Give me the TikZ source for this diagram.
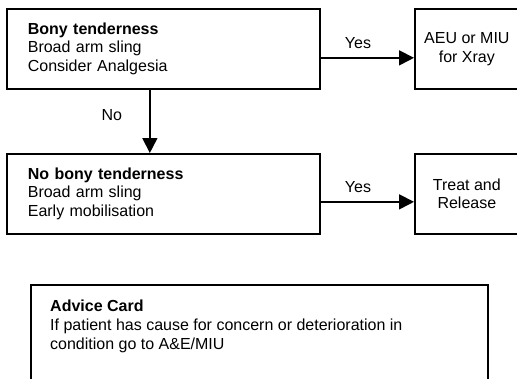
\documentclass[tikz,border=0pt]{standalone}
\usepackage{fontspec}
\setmainfont{Liberation Sans}
\usetikzlibrary{arrows.meta}
\begin{document}
\begin{tikzpicture}[x=1bp,y=-1bp,
  every node/.style={font=\fontsize{16bp}{18.8bp}\selectfont},
  box/.style={draw, line width=1.7bp, inner sep=0pt},
  stepbox/.style={box, align=left, text width=271bp, inner xsep=21bp,
    minimum height=80bp},
  outcome/.style={box, align=center, minimum width=104bp, minimum height=80bp},
  flow/.style={line width=1.7bp, -{Triangle[length=15bp,width=15bp]}},
  lbl/.style={inner sep=0pt}
]
  \useasboundingbox (0,0) rectangle (517,378);
  \fill[white] (0,0) rectangle (517,378);
  \clip (0,0) rectangle (517,378);

  % assessment steps
  \node[stepbox, anchor=north west] (bony) at (6,8)
    {\textbf{Bony tenderness}\\Broad arm sling\\Consider Analgesia};
  \node[stepbox, anchor=north west] (nobony) at (6,153)
    {\textbf{No bony tenderness}\\Broad arm sling\\Early mobilisation};

  % outcomes
  \node[outcome, anchor=north west] (xray) at (414,8) {AEU or MIU\\for Xray};
  \node[outcome, anchor=north west] (release) at (414,153) {Treat and\\Release};

  % connectors
  \draw[flow] ([yshift=-9bp]bony.east) -- ([yshift=-9bp]xray.west)
    node[lbl, pos=0.4, anchor=base, yshift=9bp] (yes1) {Yes};
  \draw[flow] ([yshift=-8bp]nobony.east) -- ([yshift=-8bp]release.west)
    node[lbl, pos=0.4, anchor=base, yshift=9bp] (yes2) {Yes};
  \draw[flow] ([xshift=-13.5bp]bony.south) -- ([xshift=-13.5bp]nobony.north)
    node[lbl, pos=0.48, anchor=base east, xshift=-27bp] (no) {No};

  % advice card
  \node[box, anchor=north west, minimum width=457bp, minimum height=130bp]
    (card) at (30,284) {};
  \node[lbl, align=left, anchor=north west] (cardtext)
    at ([xshift=20bp, yshift=-16bp]card.north west)
    {\textbf{Advice Card}\\If patient has cause for concern or deterioration in\\condition go to A\&E/MIU};
\end{tikzpicture}
\end{document}
